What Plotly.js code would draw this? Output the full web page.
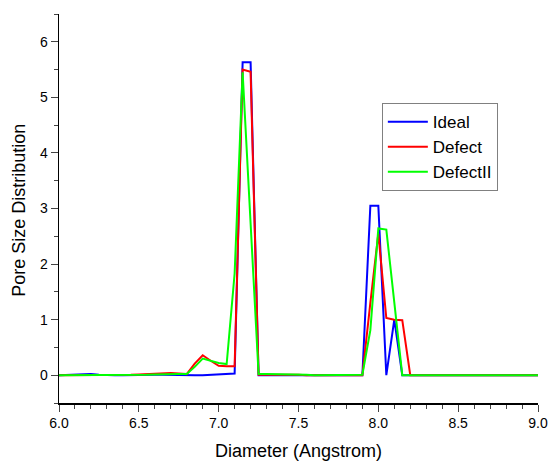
<!DOCTYPE html>
<html>
<head>
<meta charset="utf-8">
<script src="https://cdn.plot.ly/plotly-3.0.1.min.js"></script>
<style>html,body{margin:0;padding:0;background:#fff;}#plot{width:550px;height:462px;}</style>
</head>
<body>
<div id="plot"></div>
<script>
const diameter = [6.0,6.05,6.1,6.15,6.2,6.25,6.3,6.35,6.4,6.45,6.5,6.55,6.6,6.65,6.7,6.75,6.8,6.85,6.9,6.95,7.0,7.05,7.1,7.15,7.2,7.25,7.3,7.35,7.4,7.45,7.5,7.55,7.6,7.65,7.7,7.75,7.8,7.85,7.9,7.95,8.0,8.05,8.1,8.15,8.2,8.25,8.3,8.35,8.4,8.45,8.5,8.55,8.6,8.65,8.7,8.75,8.8,8.85,8.9,8.95,9.0];
const ideal =     [0,0.005,0.01,0.015,0.02,0.01,0,0,0,0.005,0.005,0.01,0.01,0.01,0.005,0.005,0,0,0,0.005,0.01,0.02,0.03,5.63,5.63,0,0,0,0,0,0,0,0,0,0,0,0,0,0,3.05,3.05,0,1.0,0,0,0,0,0,0,0,0,0,0,0,0,0,0,0,0,0,0];
const defect =    [0,0,0.005,0.005,0.01,0.005,0,0.005,0.01,0.01,0.015,0.02,0.02,0.03,0.04,0.03,0.02,0.21,0.36,0.26,0.17,0.16,0.16,5.5,5.46,0.01,0.01,0.01,0.02,0.01,0.01,0,0,0,0.005,0.005,0.005,0.005,0,1.3,2.55,1.03,1.0,0.99,0,0,0,0,0,0,0,0,0,0,0,0,0,0,0,0,0];
const defectII =  [0,0,0,0,0.005,0.005,0,0,0.005,0.01,0.01,0.01,0.015,0.02,0.02,0.02,0.02,0.15,0.30,0.26,0.22,0.2,1.83,5.45,2.7,0.02,0.02,0.02,0.02,0.01,0.01,0.01,0,0,0,0,0,0.01,0.01,0.81,2.64,2.62,1.3,0,0,0,0,0,0,0,0,0,0,0,0,0,0,0,0,0,0];
const seriesNames = ["Ideal","Defect","DefectII"];
const xTickVals = [6.0,6.5,7.0,7.5,8.0,8.5,9.0];
const xTickText = ["6.0","6.5","7.0","7.5","8.0","8.5","9.0"];
const yTickVals = [0,1,2,3,4,5,6];

const colors = ["#0000ff","#ff0000","#00ff00"];
const data = [ideal, defect, defectII].map((ys,i)=>({
  x: diameter, y: ys, type:'scatter', mode:'lines', name: seriesNames[i],
  line:{color:colors[i], width:2}
}));

const layout = {
  width:550, height:462,
  margin:{l:59, r:12, t:14, b:59, pad:0},
  paper_bgcolor:'#fff', plot_bgcolor:'#fff',
  font:{family:'Liberation Sans, Arial, sans-serif', color:'#000', size:14},
  showlegend:true,
  legend:{x:0.674, y:0.771, xanchor:'left', yanchor:'top', bordercolor:'#808080', borderwidth:1,
          font:{size:17}, bgcolor:'#fff', tracegroupgap:0, itemwidth:40},
  xaxis:{range:[6.0,9.0], tickvals:xTickVals, ticktext:xTickText, ticks:'outside', ticklen:7, tickwidth:1,
         showline:true, linecolor:'#000', linewidth:1.5, showgrid:false, zeroline:false,
         minor:{dtick:0.1, ticks:'outside', ticklen:4, tickwidth:1, showgrid:false},
         title:{text:'Diameter (Angstrom)', font:{size:18}, standoff:14}},
  yaxis:{range:[-0.5,6.5], tickvals:yTickVals, ticks:'outside', ticklen:7, tickwidth:1,
         showline:true, linecolor:'#000', linewidth:1.5, showgrid:false, zeroline:false,
         minor:{dtick:0.5, ticks:'outside', ticklen:4, tickwidth:1, showgrid:false}},
  annotations:[{text:'Pore Size Distribution', xref:'paper', yref:'paper', x:0, y:0.494,
    xanchor:'center', yanchor:'middle', xshift:-40, textangle:-90, showarrow:false, font:{size:18}}]
};
Plotly.newPlot('plot', data, layout, {staticPlot:true});
</script>
</body>
</html>
